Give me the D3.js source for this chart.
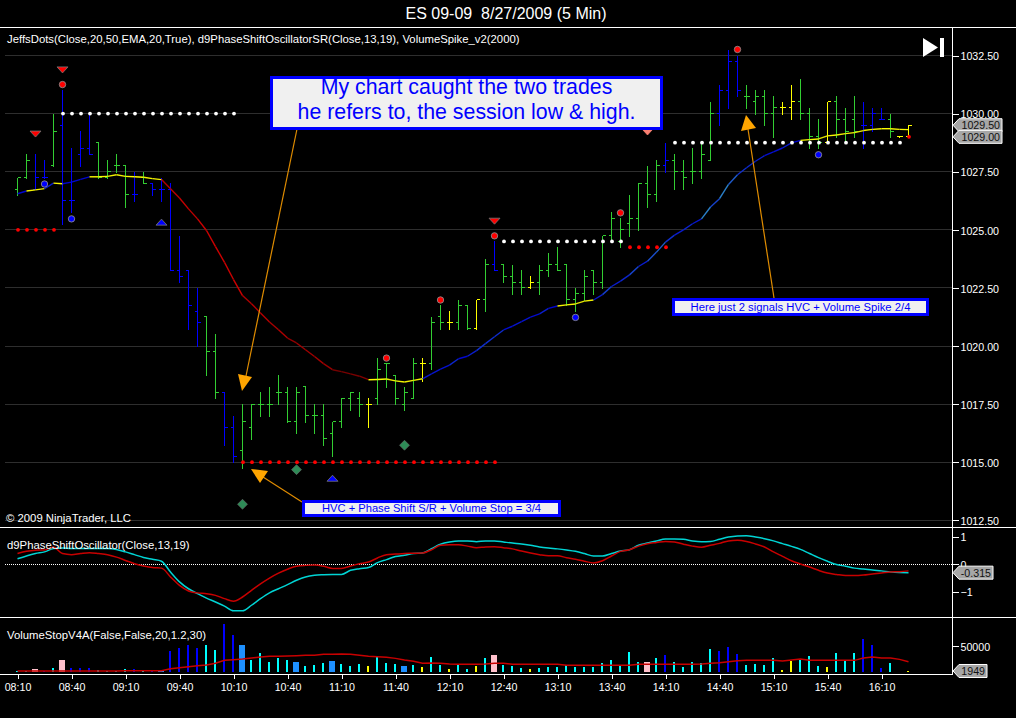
<!DOCTYPE html>
<html>
<head>
<meta charset="utf-8">
<title>ES 09-09 8/27/2009 (5 Min)</title>
<script src="https://cdn.jsdelivr.net/npm/d3@7"></script>
<style>
  html, body { margin: 0; padding: 0; background: #000; overflow: hidden; }
  text { font-family: "Liberation Sans", Arial, sans-serif; fill: #fff; }
</style>
</head>
<body>
<svg id="chart" width="1016" height="718"></svg>
<script>
// 5 minute bars
const opens = [1026.75,1027.25,1026.75,1027.25,1027.75,1029.5,1026.25,1028.25,1028.5,1028.75,
  1027.25,1027.75,1027.75,1026.5,1027.25,1027,1026.75,1026.75,1023.25,1023.25,
  1021.5,1021.25,1019.75,1018,1016.5,1015.5,1016.5,1017.5,1017.5,1018,
  1018,1016.75,1018.25,1017,1017,1016.25,1016.75,1017.75,1017.75,1017.5,
  1017.75,1019.25,1018.75,1017.5,1017.75,1019.25,1019.25,1021.25,1021,1021,
  1021.75,1020.75,1022,1023.5,1023.5,1023,1022.75,1022.5,1022.75,1023.25,
  1023.5,1023.5,1022,1022.25,1023.25,1022.75,1024.75,1024.5,1025.25,1025.5,
  1027,1026.5,1027.75,1028,1027.5,1027.5,1027.5,1028,1030,1031,
  1032.25,1030.75,1030.5,1030.75,1030,1030.25,1030.25,1030.5,1030,1029,
  1028.75,1030.5,1029.75,1029.75,1029.5,1029.5,1029.75,1029.75,1029,1029]
const highs = [1027.25,1028.25,1028.25,1028,1030,1031,1028.5,1029.25,1030,1028.75,
  1028,1028.25,1027.75,1027.5,1027.5,1027,1027.25,1027,1024.75,1023.25,
  1022.5,1021.25,1020.5,1018,1017,1017.5,1017.5,1018,1018.25,1018.75,
  1018.25,1018.25,1018.25,1017.5,1017.5,1016.75,1017.75,1018,1018,1017.75,
  1019.5,1019.25,1018.75,1018.25,1019.5,1019.5,1021.25,1021.75,1021.5,1022,
  1021.75,1022,1023.75,1024.5,1023.5,1023.5,1023.25,1023,1023.5,1024,
  1024.25,1023.5,1022.5,1023.25,1023.25,1024.75,1025.75,1025.5,1026.5,1027,
  1027.75,1028,1028.75,1028.25,1028,1028.5,1028.75,1030.5,1031.25,1032.75,
  1032.5,1031.25,1031,1031,1030.75,1030.5,1031.25,1031.5,1030.25,1029.75,
  1030.5,1030.75,1030.25,1030.75,1030.5,1030.25,1030.25,1030,1029,1029.5]
const lows = [1026.5,1027.25,1026.75,1027.25,1027.75,1025.25,1025.75,1027.75,1028.25,1027.25,
  1027.25,1027.5,1026,1026.25,1027,1026.5,1026.25,1023.25,1022.75,1020.75,
  1020,1018.75,1017.75,1015.75,1015,1014.75,1016,1017,1017,1017.5,
  1016.75,1016.25,1016.75,1016.25,1015.75,1015.25,1016.5,1017.25,1017,1016.5,
  1017.5,1018.25,1017.5,1017.25,1017.75,1018.5,1019,1020.75,1020.75,1020.75,
  1020.75,1020.75,1021.5,1023.25,1022.75,1022.25,1022.25,1022.5,1022.25,1023,
  1023.25,1021.75,1021.5,1022,1022.25,1022.5,1024.5,1024.25,1024.75,1025,
  1026,1026.25,1027.5,1026.75,1026.75,1027,1027.25,1028,1029.5,1030.25,
  1030.75,1030.25,1030,1029.5,1029,1030,1029.75,1029.75,1028.5,1028.5,
  1028.75,1029,1028.75,1029,1028.5,1029.25,1029.75,1029,1029,1029]
const closes = [1027.25,1028,1027.25,1027.25,1029.25,1026.25,1026.25,1028.5,1028.25,1027.25,
  1027.5,1027.75,1026.5,1026.5,1027,1026.75,1026.75,1023.25,1023,1021.75,
  1021,1019.75,1018,1016.5,1015.25,1016.75,1017.5,1017.5,1017.5,1018,
  1016.75,1018,1017,1017,1016,1016.75,1017.75,1018,1017.5,1017.5,
  1019,1019.25,1017.75,1018,1019.25,1019.25,1021,1021,1021,1021.75,
  1020.75,1022,1023.5,1023.25,1023,1022.75,1022.5,1022.75,1023.25,1023.5,
  1023.25,1022,1022.25,1023,1022.75,1024.75,1025.5,1025,1025.5,1027,
  1026.5,1027.75,1028,1027.5,1027.25,1027.5,1028.25,1030,1031,1032.25,
  1031,1030.75,1030.75,1030,1030.25,1030.25,1030.5,1030,1029,1028.75,
  1030.5,1029.75,1029.25,1029.25,1029.5,1030,1029.75,1029.25,1029,1029.5]
// g = normal, b = spike, y = doji
const barKinds = [
  'g','g','b','b','g','b','b','b','b','g','g','g','g','b','g','b','b','b','b','b',
  'b','g','g','b','b','g','g','g','g','g','g','g','g','g','g','g','g','g','g','y',
  'g','g','g','g','g','y','g','g','y','g','g','y','g','b','g','g','g','y','g','g',
  'g','g','g','g','g','g','g','g','g','g','g','g','b','g','g','g','g','g','b','b',
  'b','g','g','g','g','y','y','g','g','g','y','g','g','g','b','b','b','g','y','y']

// JeffsDots moving average, one value per bar and the runs of its state
const maValues = [1026.55,1026.67,1026.72,1026.77,1027.01,1026.98,1027.05,1027.17,1027.28,1027.28,
  1027.3,1027.37,1027.3,1027.28,1027.26,1027.2,1027.16,1026.77,1026.37,1025.9,
  1025.47,1024.97,1024.28,1023.6,1022.86,1022.17,1021.82,1021.42,1021.03,1020.7,
  1020.34,1020.13,1019.84,1019.55,1019.24,1018.98,1018.9,1018.8,1018.7,1018.55,
  1018.56,1018.58,1018.5,1018.45,1018.52,1018.59,1018.8,1019,1019.18,1019.45,
  1019.56,1019.8,1020.1,1020.4,1020.69,1020.85,1021.05,1021.24,1021.38,1021.62,
  1021.72,1021.77,1021.81,1021.93,1021.98,1022.21,1022.56,1022.79,1023.06,1023.42,
  1023.65,1024.04,1024.47,1024.77,1025,1025.26,1025.47,1025.98,1026.34,1026.95,
  1027.37,1027.67,1027.95,1028.19,1028.35,1028.52,1028.74,1028.85,1028.88,1028.91,
  1029.04,1029.08,1029.14,1029.18,1029.27,1029.32,1029.35,1029.35,1029.32,1029.31]
const maRuns = [[0,1,'b'],[1,3,'y'],[3,4,'b'],[4,5,'y'],[5,8,'b'],[8,16,'y'],[16,39,'r'],
  [39,45,'y'],[45,60,'b'],[60,64,'y'],[64,87,'b'],[87,99,'y']]

// signals as [bar, price]
const downTriangles = [[5,1031.88],[2,1029.12],[53,1025.37]]
const pinkTriangles = [[70,1029.21]]
const upTriangles = [[16,1025.33],[35,1014.31]]
const redPoints = [[5,1031.25],[41,1019.48],[47,1021.98],[53,1024.74],[67,1025.73],[80,1032.76]]
const bluePoints = [[3,1026.97],[6,1025.47],[62,1021.23],[89,1028.23]]
const diamonds = [[25,1013.19],[31,1014.68],[43,1015.73]]

// support and resistance dot runs as [first bar, last bar, price]
const whiteLevels = [[5,24,1030],[54,67,1024.5],[73,98,1028.75]]
const redLevels = [[0,4,1025],[25,53,1015],[68,72,1024.25],[99,99,1029]]

const oscCyan = [.19,.29,.38,.44,.56,.58,.56,.56,.56,.56,.56,.53,.44,.34,.24,.17,.1,-.29,-.65,-.9,
  -1.08,-1.24,-1.38,-1.53,-1.7,-1.7,-1.5,-1.26,-1.05,-.9,-.75,-.59,-.47,-.41,-.39,-.38,-.38,-.23,-.17,-.13,
  .05,.16,.27,.32,.38,.4,.56,.72,.8,.84,.84,.81,.84,.84,.8,.76,.73,.68,.62,.58,
  .55,.51,.46,.38,.29,.29,.38,.47,.52,.68,.76,.84,.91,.91,.9,.84,.81,.82,.9,.98,
  1.02,1.03,.98,.92,.84,.74,.64,.53,.38,.23,.1,-.02,-.08,-.15,-.18,-.22,-.25,-.29,-.31,-.315]
const oscRed = [.38,.46,.5,.51,.61,.38,.34,.38,.41,.38,.34,.25,.13,.01,-.07,-.13,-.15,-.47,-.78,-.98,
  -1.05,-1.08,-1.14,-1.26,-1.35,-1.2,-.96,-.72,-.51,-.33,-.19,-.08,-.05,-.04,-.08,-.16,-.16,-.07,.01,.07,
  .22,.34,.36,.38,.39,.4,.52,.68,.7,.7,.65,.59,.62,.63,.59,.55,.47,.4,.34,.3,
  .3,.23,.17,.1,.04,.12,.29,.46,.52,.65,.74,.78,.82,.8,.72,.65,.61,.68,.75,.84,
  .86,.82,.73,.62,.44,.28,.12,0,-.11,-.23,-.33,-.38,-.42,-.42,-.4,-.36,-.33,-.29,-.28,-.25]

// n = normal, s = spike, d = doji, p = pink stop, h = blue stop
const volumes = [1900,1900,5800,1900,7700,23000,7700,7700,7700,3800,1900,1900,5800,5800,1900,1900,3800,40400,46000,52000,
  46000,52000,42300,92000,71000,52000,23000,36500,19200,27000,23000,19200,11500,13500,17300,21200,15400,11500,15400,11500,
  30800,17300,15400,11500,13500,9600,28800,13500,5800,15400,5800,11500,27000,32700,13500,11500,7700,5800,7700,9600,
  9600,13500,9600,9600,9600,17300,23000,11500,38500,19200,19200,27000,32700,19200,9600,19200,17300,44200,40400,48000,
  34600,13500,15400,13500,27000,3800,21200,23000,30800,11500,9600,36500,21200,36500,63500,52000,7700,17300,0,1949]
const volumeKinds = ['n','n','p','s','n','p','s','s','s','n','n','n','n','s','n','s','h','s','s','s',
  's','n','n','s','s','h','n','n','n','n','n','h','n','n','n','h','n','n','n','d',
  'n','n','n','h','n','d','n','n','d','n','n','d','n','p','n','n','n','d','n','n',
  'n','n','n','n','n','n','n','n','n','n','p','n','s','n','n','n','n','n','s','s',
  's','n','n','n','n','d','d','n','n','n','d','n','n','n','s','s','s','n','n','d']
const volumeAvg = [1900,1900,1900,1900,1900,1900,1900,1900,1900,1900,1900,2000,2200,2400,2500,2500,2600,6400,8300,10300,
  12200,13500,16700,22400,23700,25000,26900,28800,30100,30100,30800,31400,32000,32000,33900,33900,34600,33900,32000,30100,
  29500,28200,26200,23000,20500,16700,17300,16700,15400,14700,14700,14700,15400,16700,16700,14700,14700,14700,14700,14700,
  14700,12800,12800,12800,12800,12800,12800,12800,12800,14700,14700,14700,14700,14700,14700,14700,15400,16700,17900,19900,
  21800,22400,22400,22400,22400,21200,23000,25000,22400,22400,22400,22400,22400,22400,26900,28800,26900,26900,24300,19900]

const priceTicks = [1012.5,1015,1017.5,1020,1022.5,1025,1027.5,1030,1032.5]
const oscTicks = [1,0,-1]
const volumeTicks = [50000]
const timeLabels = ['08:10','08:40','09:10','09:40','10:10','10:40','11:10','11:40','12:10','12:40','13:10','13:40','14:10','14:40','15:10','15:40','16:10']

const title = 'ES 09-09  8/27/2009 (5 Min)'
const indicatorText = 'JeffsDots(Close,20,50,EMA,20,True), d9PhaseShiftOscillatorSR(Close,13,19), VolumeSpike_v2(2000)'

const W = 1016, axisX = 952, bottom = 674

const svg = d3.select('#chart')

const x = d3.scaleLinear().domain([0, 99]).range([17.5, 908.5])
const y = d3.scaleLinear().domain([1012.5, 1032.5]).range([520.3, 55.5])
const yOsc = d3.scaleLinear().domain([-1, 1]).range([591.5, 536.5])
const yVol = d3.scaleLinear().domain([0, 50000]).range([672, 646])

const barColor = d3.scaleOrdinal().domain(['g','b','y']).range(['#32cd32','#0000ff','#ffff00'])
const volColor = d3.scaleOrdinal().domain(['n','s','d','p','h']).range(['#00ffff','#0000ff','#ffff00','#ffc0cb','#1e90ff'])

svg.append('rect').attr('width', W).attr('height', 718).attr('fill', '#000')

// title and frame
svg.append('text').attr('x', 506).attr('y', 19).attr('text-anchor', 'middle')
  .style('font-size', '16px').style('white-space', 'pre').text(title)

const crisp = svg.append('g').attr('shape-rendering', 'crispEdges')

crisp.selectAll('.grid').data(priceTicks).join('line').attr('class', 'grid')
  .attr('x1', 5).attr('x2', axisX).attr('y1', d => y(d)).attr('y2', d => y(d))
  .attr('stroke', '#2e2e2e')

// panel 2 zero line
svg.append('line').attr('x1', 5).attr('x2', axisX)
  .attr('y1', yOsc(0)).attr('y2', yOsc(0))
  .attr('stroke', '#fff').attr('stroke-dasharray', '1,1').attr('shape-rendering', 'crispEdges')

// moving average, colour follows the state and how steep the line runs
const maColor = (kind, a, b) => {
  const slope = Math.min(1, Math.abs(maValues[b] - maValues[a]) / 0.5)
  if (kind == 'y') return d3.interpolateRgb('#ffff00', '#8a8a00')(slope)
  if (kind == 'r') return d3.interpolateRgb('#640000', '#cc0000')(slope)
  return d3.interpolateRgb('#0000d0', '#2a7fc8')(slope * slope)
}
const maGroup = svg.append('g').attr('fill', 'none').attr('stroke-width', 1.4)
maRuns.forEach(run => {
  for (let i = run[0]; i < run[1]; i++) {
    maGroup.append('line')
      .attr('x1', x(i)).attr('x2', x(i + 1))
      .attr('y1', y(maValues[i])).attr('y2', y(maValues[i + 1]))
      .attr('stroke', maColor(run[2], i, i + 1))
  }
})

// OHLC bars
const bars = crisp.selectAll('.bar').data(d3.range(highs.length)).join('g').attr('class', 'bar')
  .attr('stroke', i => barColor(barKinds[i]))
bars.append('line').attr('x1', i => x(i)).attr('x2', i => x(i))
  .attr('y1', i => y(highs[i])).attr('y2', i => y(lows[i]) + 1)
bars.append('line').attr('x1', i => x(i) - 3).attr('x2', i => x(i))
  .attr('y1', i => y(opens[i])).attr('y2', i => y(opens[i]))
bars.append('line').attr('x1', i => x(i)).attr('x2', i => x(i) + 3.5)
  .attr('y1', i => y(closes[i])).attr('y2', i => y(closes[i]))

// dot runs
const levelDots = (levels, color) => {
  levels.forEach(l => {
    svg.append('g').selectAll('circle').data(d3.range(l[0], l[1] + 1)).join('circle')
      .attr('cx', i => x(i) + 0.5).attr('cy', y(l[2]))
      .attr('r', 1.9).attr('fill', color)
  })
}
levelDots(whiteLevels, '#fff')
levelDots(redLevels, '#ff0000')

// signal markers
const points = (list, color) => svg.append('g').selectAll('circle').data(list).join('circle')
  .attr('cx', d => x(d[0])).attr('cy', d => y(d[1]))
  .attr('r', 3.2).attr('fill', color).attr('stroke', '#8a8a8a').attr('stroke-width', 0.9)
points(redPoints, '#ff0000')
points(bluePoints, '#0000ff')

const triDown = 'M-5.5,-3L5.5,-3L0,3Z'
const triUp = 'M-5.5,3L5.5,3L0,-3Z'
const tris = (list, path, color, edge) => svg.append('g').selectAll('path').data(list).join('path')
  .attr('transform', d => 'translate(' + x(d[0]) + ',' + y(d[1]) + ')')
  .attr('d', path).attr('fill', color).attr('stroke', edge).attr('stroke-width', 0.8)
tris(downTriangles, triDown, '#ff0000', '#777')
tris(pinkTriangles, triDown, '#fa8072', '#fa8072')
tris(upTriangles, triUp, '#0000ff', '#777')

svg.append('g').selectAll('path').data(diamonds).join('path')
  .attr('transform', d => 'translate(' + x(d[0]) + ',' + y(d[1]) + ')')
  .attr('d', 'M0,-5L5,0L0,5L-5,0Z').attr('fill', '#2e8b57').attr('stroke', '#6a6a6a').attr('stroke-width', 0.6)

// hand drawn arrows and notes
const arrow = (x1, y1, x2, y2, head) => {
  svg.append('line').attr('x1', x1).attr('y1', y1).attr('x2', x2).attr('y2', y2)
    .attr('stroke', '#e08c00').attr('stroke-width', 1.2)
  svg.append('polygon').attr('points', head).attr('fill', '#ffa500')
}
arrow(297, 129, 246, 376, '238,374 252,377 242,391')
arrow(302, 502, 263, 477, '251,469 268,471 260,483')
arrow(774, 298, 748, 129, '746,115 741,131 756,128')

const note = (bx, by, bw, bh, lines, size, firstLine, lineGap) => {
  svg.append('rect').attr('x', bx + 1.5).attr('y', by + 1.5).attr('width', bw - 3).attr('height', bh - 3)
    .attr('fill', '#f0f0f0').attr('stroke', '#0000ff').attr('stroke-width', 3).attr('shape-rendering', 'crispEdges')
  lines.forEach((t, k) => {
    svg.append('text').attr('x', bx + bw / 2).attr('y', by + firstLine + k * lineGap)
      .attr('text-anchor', 'middle').style('font-size', size + 'px').style('fill', '#0000ff').text(t)
  })
}
note(270, 76, 393, 54, ['My chart caught the two trades', 'he refers to, the session low & high.'], 21.33, 18, 25)
note(672, 298, 257, 18, ['Here just 2 signals HVC + Volume Spike 2/4'], 11.25, 12.5, 0)
note(302, 500, 259, 17, ['HVC + Phase Shift S/R + Volume Stop = 3/4'], 11.15, 12, 0)

// oscillator
const oscLine = values => d3.line().x((d, i) => x(i)).y(d => yOsc(d)).curve(d3.curveMonotoneX)(values)
svg.append('path').attr('d', oscLine(oscCyan)).attr('fill', 'none').attr('stroke', '#00d4d4').attr('stroke-width', 1.5)
svg.append('path').attr('d', oscLine(oscRed)).attr('fill', 'none').attr('stroke', '#c80000').attr('stroke-width', 1.5)

// volume
crisp.selectAll('.vol').data(volumes).join('rect').attr('class', 'vol')
  .attr('x', (d, i) => x(i) - (volumeKinds[i] == 'p' || volumeKinds[i] == 'h' ? 3.5 : 1.5))
  .attr('width', (d, i) => volumeKinds[i] == 'p' || volumeKinds[i] == 'h' ? 6 : 2)
  .attr('y', d => yVol(d)).attr('height', d => yVol(0) - yVol(d))
  .attr('fill', (d, i) => volColor(volumeKinds[i]))
svg.append('path')
  .attr('d', d3.line().x((d, i) => x(i)).y(d => yVol(d))(volumeAvg))
  .attr('fill', 'none').attr('stroke', '#c80000').attr('stroke-width', 1.5)

// frame lines
const frame = svg.append('g').attr('stroke', '#fff').attr('shape-rendering', 'crispEdges')
frame.append('line').attr('x1', 0).attr('x2', W).attr('y1', 27.5).attr('y2', 27.5)
frame.append('line').attr('x1', 0).attr('x2', W).attr('y1', 527.5).attr('y2', 527.5)
frame.append('line').attr('x1', 0).attr('x2', W).attr('y1', 617.5).attr('y2', 617.5)
frame.append('line').attr('x1', 0).attr('x2', axisX).attr('y1', bottom + .5).attr('y2', bottom + .5)
frame.append('line').attr('x1', axisX + .5).attr('x2', axisX + .5).attr('y1', 27).attr('y2', bottom + 1)

// right hand axes
const rightAxis = (scale, ticks, fmt) => {
  const g = svg.append('g').attr('transform', 'translate(' + (axisX + .5) + ',0)')
    .call(d3.axisRight(scale).tickValues(ticks).tickFormat(fmt).tickSize(6).tickPadding(2))
  g.select('.domain').remove()
  g.selectAll('line').attr('stroke', '#fff').attr('shape-rendering', 'crispEdges')
  g.selectAll('text').attr('fill', '#fff').attr('dy', '0.4em').style('font-size', '10.67px')
    .style('font-family', '"Liberation Sans", Arial, sans-serif')
}
rightAxis(y, priceTicks, d3.format('.2f'))
rightAxis(yOsc, oscTicks, d3.format('d'))
rightAxis(yVol, volumeTicks, d3.format('d'))

// time axis
const timeG = svg.append('g').attr('transform', 'translate(0,' + (bottom + .5) + ')')
  .call(d3.axisBottom(x).tickValues(timeLabels.map((d, i) => i * 6))
    .tickFormat((d, i) => timeLabels[i]).tickSize(4).tickPadding(5))
timeG.select('.domain').remove()
timeG.selectAll('line').attr('stroke', '#fff').attr('shape-rendering', 'crispEdges')
timeG.selectAll('text').attr('fill', '#fff').style('font-size', '10.67px')
  .style('font-family', '"Liberation Sans", Arial, sans-serif')

// pale value flags on the axis
const flag = (scale, v, label, w) => {
  const cy = scale(v), x0 = axisX + 1
  const pts = [[x0, cy], [x0 + 6, cy - 6.5], [x0 + w, cy - 6.5], [x0 + w, cy + 6.5], [x0 + 6, cy + 6.5]]
  svg.append('polygon').attr('points', pts.join(' ')).attr('fill', '#a6a6a6').attr('stroke', '#fff')
  svg.append('text').attr('x', x0 + w - 2).attr('y', cy + 4).attr('text-anchor', 'end')
    .style('font-size', '10.67px').style('fill', '#111').text(label)
}
flag(y, closes[99], '1029.50', 49)
flag(y, opens[99], '1029.00', 49)
flag(yOsc, oscCyan[99], '-0.315', 40)
flag(yVol, volumes[99], '1949', 34)

// panel captions
const caption = (tx, ty, t) => svg.append('text').attr('x', tx).attr('y', ty)
  .style('font-size', '11.33px').text(t)
caption(7, 43, indicatorText)
caption(6, 522, '© 2009 NinjaTrader, LLC')
caption(7, 549, 'd9PhaseShiftOscillator(Close,13,19)')
caption(7, 639, 'VolumeStopV4A(False,False,20,1.2,30)')

// scroll to end button
svg.append('polygon').attr('points', '923,38 923,57 938,47.5').attr('fill', '#fff')
crisp.append('rect').attr('x', 940).attr('y', 38).attr('width', 4).attr('height', 19).attr('fill', '#fff')
</script>
</body>
</html>
